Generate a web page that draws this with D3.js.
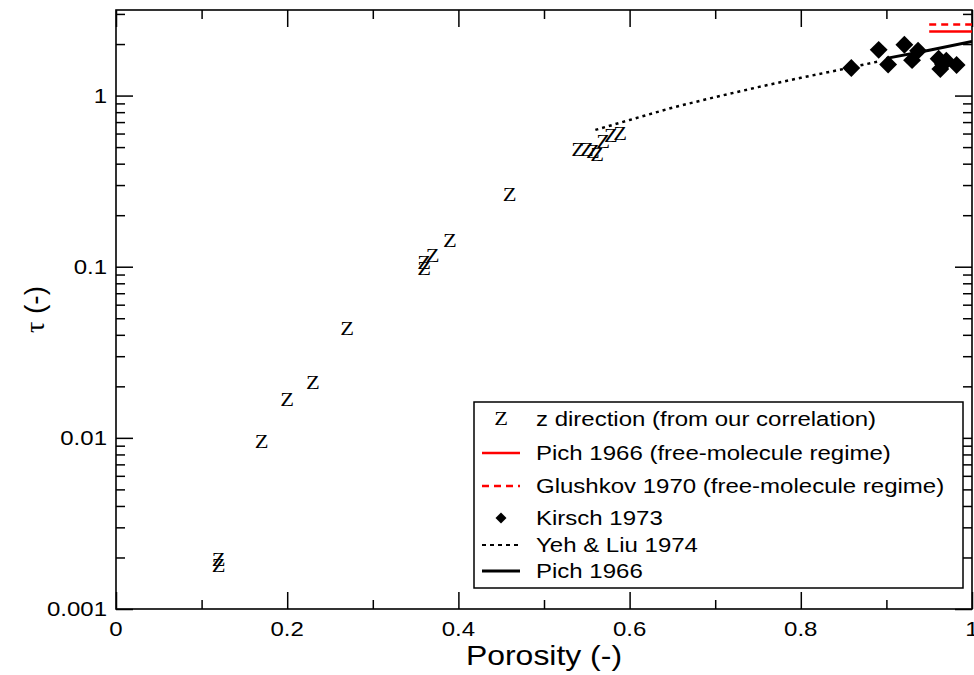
<!DOCTYPE html>
<html>
<head>
<meta charset="utf-8">
<script src="https://cdn.jsdelivr.net/npm/d3@7"></script>
<style>
  html, body { margin: 0; padding: 0; background: #fff; }
  svg { display: block; }
  text { font-family: "Liberation Sans", Arial, Helvetica, sans-serif; fill: #000; }
</style>
</head>
<body>
<svg id="chart" width="974" height="675"></svg>
<script>
// ---- data ----
// z direction (from our correlation)
const zPorosity = [0.12, 0.12, 0.17, 0.20, 0.23, 0.27, 0.36, 0.36, 0.37, 0.39, 0.46,
                   0.54, 0.55, 0.557, 0.562, 0.569, 0.578, 0.589];
const zTau      = [0.00193, 0.00178, 0.0095, 0.0166, 0.0208, 0.0435, 0.1055, 0.097, 0.115, 0.141, 0.264,
                   0.484, 0.484, 0.47, 0.447, 0.532, 0.584, 0.60];

// Kirsch 1973
const kirschPorosity = [0.859, 0.891, 0.902, 0.921, 0.930, 0.937, 0.961, 0.963, 0.966, 0.970, 0.982];
const kirschTau      = [1.45, 1.85, 1.52, 1.98, 1.61, 1.83, 1.64, 1.43, 1.53, 1.60, 1.51];

// Yeh & Liu 1974
const yehPorosity = [0.56, 0.60, 0.65, 0.70, 0.75, 0.80, 0.85, 0.89];
const yehTau      = [0.63, 0.72, 0.85, 0.98, 1.12, 1.27, 1.43, 1.58];

// Pich 1966
const pichPorosity = [0.90, 0.95, 1.00];
const pichTau      = [1.65, 1.84, 2.07];

// Pich 1966 (free-molecule regime)
const pichFmPorosity = [0.95, 1.00];
const pichFmTau      = [2.37, 2.37];

// Glushkov 1970 (free-molecule regime)
const glushkovPorosity = [0.95, 1.00];
const glushkovTau      = [2.60, 2.60];

// axis ticks
const xTickValues = [0, 0.2, 0.4, 0.6, 0.8, 1];
const xTickLabels = ["0", "0.2", "0.4", "0.6", "0.8", "1"];
const xMinorValues = [0.1, 0.3, 0.5, 0.7, 0.9];
const yTickValues = [0.001, 0.01, 0.1, 1];
const yTickLabels = ["0.001", "0.01", "0.1", "1"];

const legendLabels = [
  "z direction (from our correlation)",
  "Pich 1966 (free-molecule regime)",
  "Glushkov 1970 (free-molecule regime)",
  "Kirsch 1973",
  "Yeh & Liu 1974",
  "Pich 1966"
];

// ---- layout ----
const plotL = 116, plotR = 972, plotT = 10, plotB = 609;
const svg = d3.select("#chart");
const widen = 1.2; // horizontal stretch applied to text glyphs

// stretch a text selection horizontally by a factor, keeping its anchor
function stretch(sel, k = widen) {
  sel.each(function () {
    const w = this.getComputedTextLength();
    d3.select(this).attr("textLength", w * k).attr("lengthAdjust", "spacingAndGlyphs");
  });
}

const x = d3.scaleLinear().domain([0, 1]).range([plotL, plotR]);
const y = d3.scaleLog().domain([0.001, Math.sqrt(10)]).range([plotB, plotT]);

const yMinorValues = [];
for (let e = -3; e <= 0; e++) {
  for (let m = 2; m <= 9; m++) {
    const v = m * Math.pow(10, e);
    if (v <= Math.sqrt(10)) yMinorValues.push(v);
  }
}

svg.append("defs").append("clipPath").attr("id", "plotClip")
  .append("rect").attr("x", plotL).attr("y", plotT)
  .attr("width", plotR - plotL).attr("height", plotB - plotT);

// ticks on all four sides, pointing inward
const majorLen = 17, minorLen = 9;
function tickAxis(axisGen, values, size, transform) {
  const g = svg.append("g").attr("transform", transform)
    .call(axisGen.tickValues(values).tickSize(size).tickFormat(""));
  g.select(".domain").remove();
  g.selectAll("line").attr("stroke", "#000").attr("stroke-width", 1.5);
  return g;
}
tickAxis(d3.axisTop(x), xTickValues, majorLen, `translate(0,${plotB})`);
tickAxis(d3.axisTop(x), xMinorValues, minorLen, `translate(0,${plotB})`);
tickAxis(d3.axisBottom(x), xTickValues, majorLen, `translate(0,${plotT})`);
tickAxis(d3.axisBottom(x), xMinorValues, minorLen, `translate(0,${plotT})`);
tickAxis(d3.axisRight(y), yTickValues, majorLen, `translate(${plotL},0)`);
tickAxis(d3.axisRight(y), yMinorValues, minorLen, `translate(${plotL},0)`);
tickAxis(d3.axisLeft(y), yTickValues, majorLen, `translate(${plotR},0)`);
tickAxis(d3.axisLeft(y), yMinorValues, minorLen, `translate(${plotR},0)`);

// frame
svg.append("rect").attr("x", plotL).attr("y", plotT)
  .attr("width", plotR - plotL).attr("height", plotB - plotT)
  .attr("fill", "none").attr("stroke", "#000").attr("stroke-width", 1.6);

// tick labels
svg.append("g").selectAll("text").data(xTickValues).join("text")
  .attr("x", d => x(d)).attr("y", 636)
  .attr("text-anchor", "middle").attr("font-size", 20)
  .text((d, i) => xTickLabels[i])
  .call(stretch);
svg.append("g").selectAll("text").data(yTickValues).join("text")
  .attr("x", 107).attr("y", d => y(d) + 7)
  .attr("text-anchor", "end").attr("font-size", 20)
  .text((d, i) => yTickLabels[i])
  .call(stretch);

// axis titles
svg.append("text").attr("x", (plotL + plotR) / 2).attr("y", 665)
  .attr("text-anchor", "middle").attr("font-size", 28)
  .text("Porosity (-)")
  .call(stretch, 1.14);
svg.append("text")
  .attr("transform", `translate(44,${(plotT + plotB) / 2}) rotate(-90)`)
  .attr("text-anchor", "middle").attr("font-size", 28)
  .call(t => {
    t.append("tspan").style("font-family", "'Liberation Serif', 'DejaVu Serif', serif").text("τ");
    t.append("tspan").text(" (-)");
  });

// series
const plot = svg.append("g").attr("clip-path", "url(#plotClip)");
const line = d3.line().x(d => x(d[0])).y(d => y(d[1]));
const zip = (a, b) => a.map((v, i) => [v, b[i]]);

plot.append("path").datum(zip(yehPorosity, yehTau))
  .attr("d", line).attr("fill", "none").attr("stroke", "#000")
  .attr("stroke-width", 2.5).attr("stroke-dasharray", "3,4");

plot.append("path").datum(zip(pichPorosity, pichTau))
  .attr("d", line).attr("fill", "none").attr("stroke", "#000")
  .attr("stroke-width", 3);

plot.append("path").datum(zip(pichFmPorosity, pichFmTau))
  .attr("d", line).attr("fill", "none").attr("stroke", "#ff0000")
  .attr("stroke-width", 2.5);

plot.append("path").datum(zip(glushkovPorosity, glushkovTau))
  .attr("d", line).attr("fill", "none").attr("stroke", "#ff0000")
  .attr("stroke-width", 2.5).attr("stroke-dasharray", "7,5");

const diamond = d3.symbol().type(d3.symbolSquare).size(160);
plot.append("g").selectAll("path").data(zip(kirschPorosity, kirschTau)).join("path")
  .attr("transform", d => `translate(${x(d[0])},${y(d[1])}) rotate(45)`)
  .attr("d", diamond).attr("fill", "#000");

plot.append("g").selectAll("text").data(zip(zPorosity, zTau)).join("text")
  .attr("x", d => x(d[0])).attr("y", d => y(d[1]) + 6)
  .attr("text-anchor", "middle")
  .attr("font-size", 18).style("font-family", "'Liberation Serif', serif")
  .text("Z")
  .call(stretch, 1.25);

// legend
const lg = svg.append("g");
lg.append("rect").attr("x", 474).attr("y", 402).attr("width", 489).attr("height", 186)
  .attr("fill", "#fff").attr("stroke", "#000").attr("stroke-width", 1.5);
const rowY = [419, 453, 486, 518, 545, 571];
const sx0 = 482, sx1 = 520, tx = 536;
lg.selectAll("text.lab").data(legendLabels).join("text").attr("class", "lab")
  .attr("x", tx).attr("y", (d, i) => rowY[i] + 7).attr("font-size", 20)
  .text(d => d)
  .call(stretch);
lg.append("text").attr("x", (sx0 + sx1) / 2).attr("y", rowY[0] + 6)
  .attr("text-anchor", "middle").attr("font-size", 18)
  .style("font-family", "'Liberation Serif', serif").text("Z")
  .call(stretch, 1.25);
lg.append("line").attr("x1", sx0).attr("x2", sx1).attr("y1", rowY[1]).attr("y2", rowY[1])
  .attr("stroke", "#ff0000").attr("stroke-width", 2.5);
lg.append("line").attr("x1", sx0).attr("x2", sx1).attr("y1", rowY[2]).attr("y2", rowY[2])
  .attr("stroke", "#ff0000").attr("stroke-width", 2.5).attr("stroke-dasharray", "7,5");
lg.append("path").attr("transform", `translate(${(sx0 + sx1) / 2},${rowY[3]}) rotate(45)`)
  .attr("d", d3.symbol().type(d3.symbolSquare).size(60)()).attr("fill", "#000");
lg.append("line").attr("x1", sx0).attr("x2", sx1).attr("y1", rowY[4]).attr("y2", rowY[4])
  .attr("stroke", "#000").attr("stroke-width", 2).attr("stroke-dasharray", "4,4");
lg.append("line").attr("x1", sx0).attr("x2", sx1).attr("y1", rowY[5]).attr("y2", rowY[5])
  .attr("stroke", "#000").attr("stroke-width", 3);
</script>
</body>
</html>
